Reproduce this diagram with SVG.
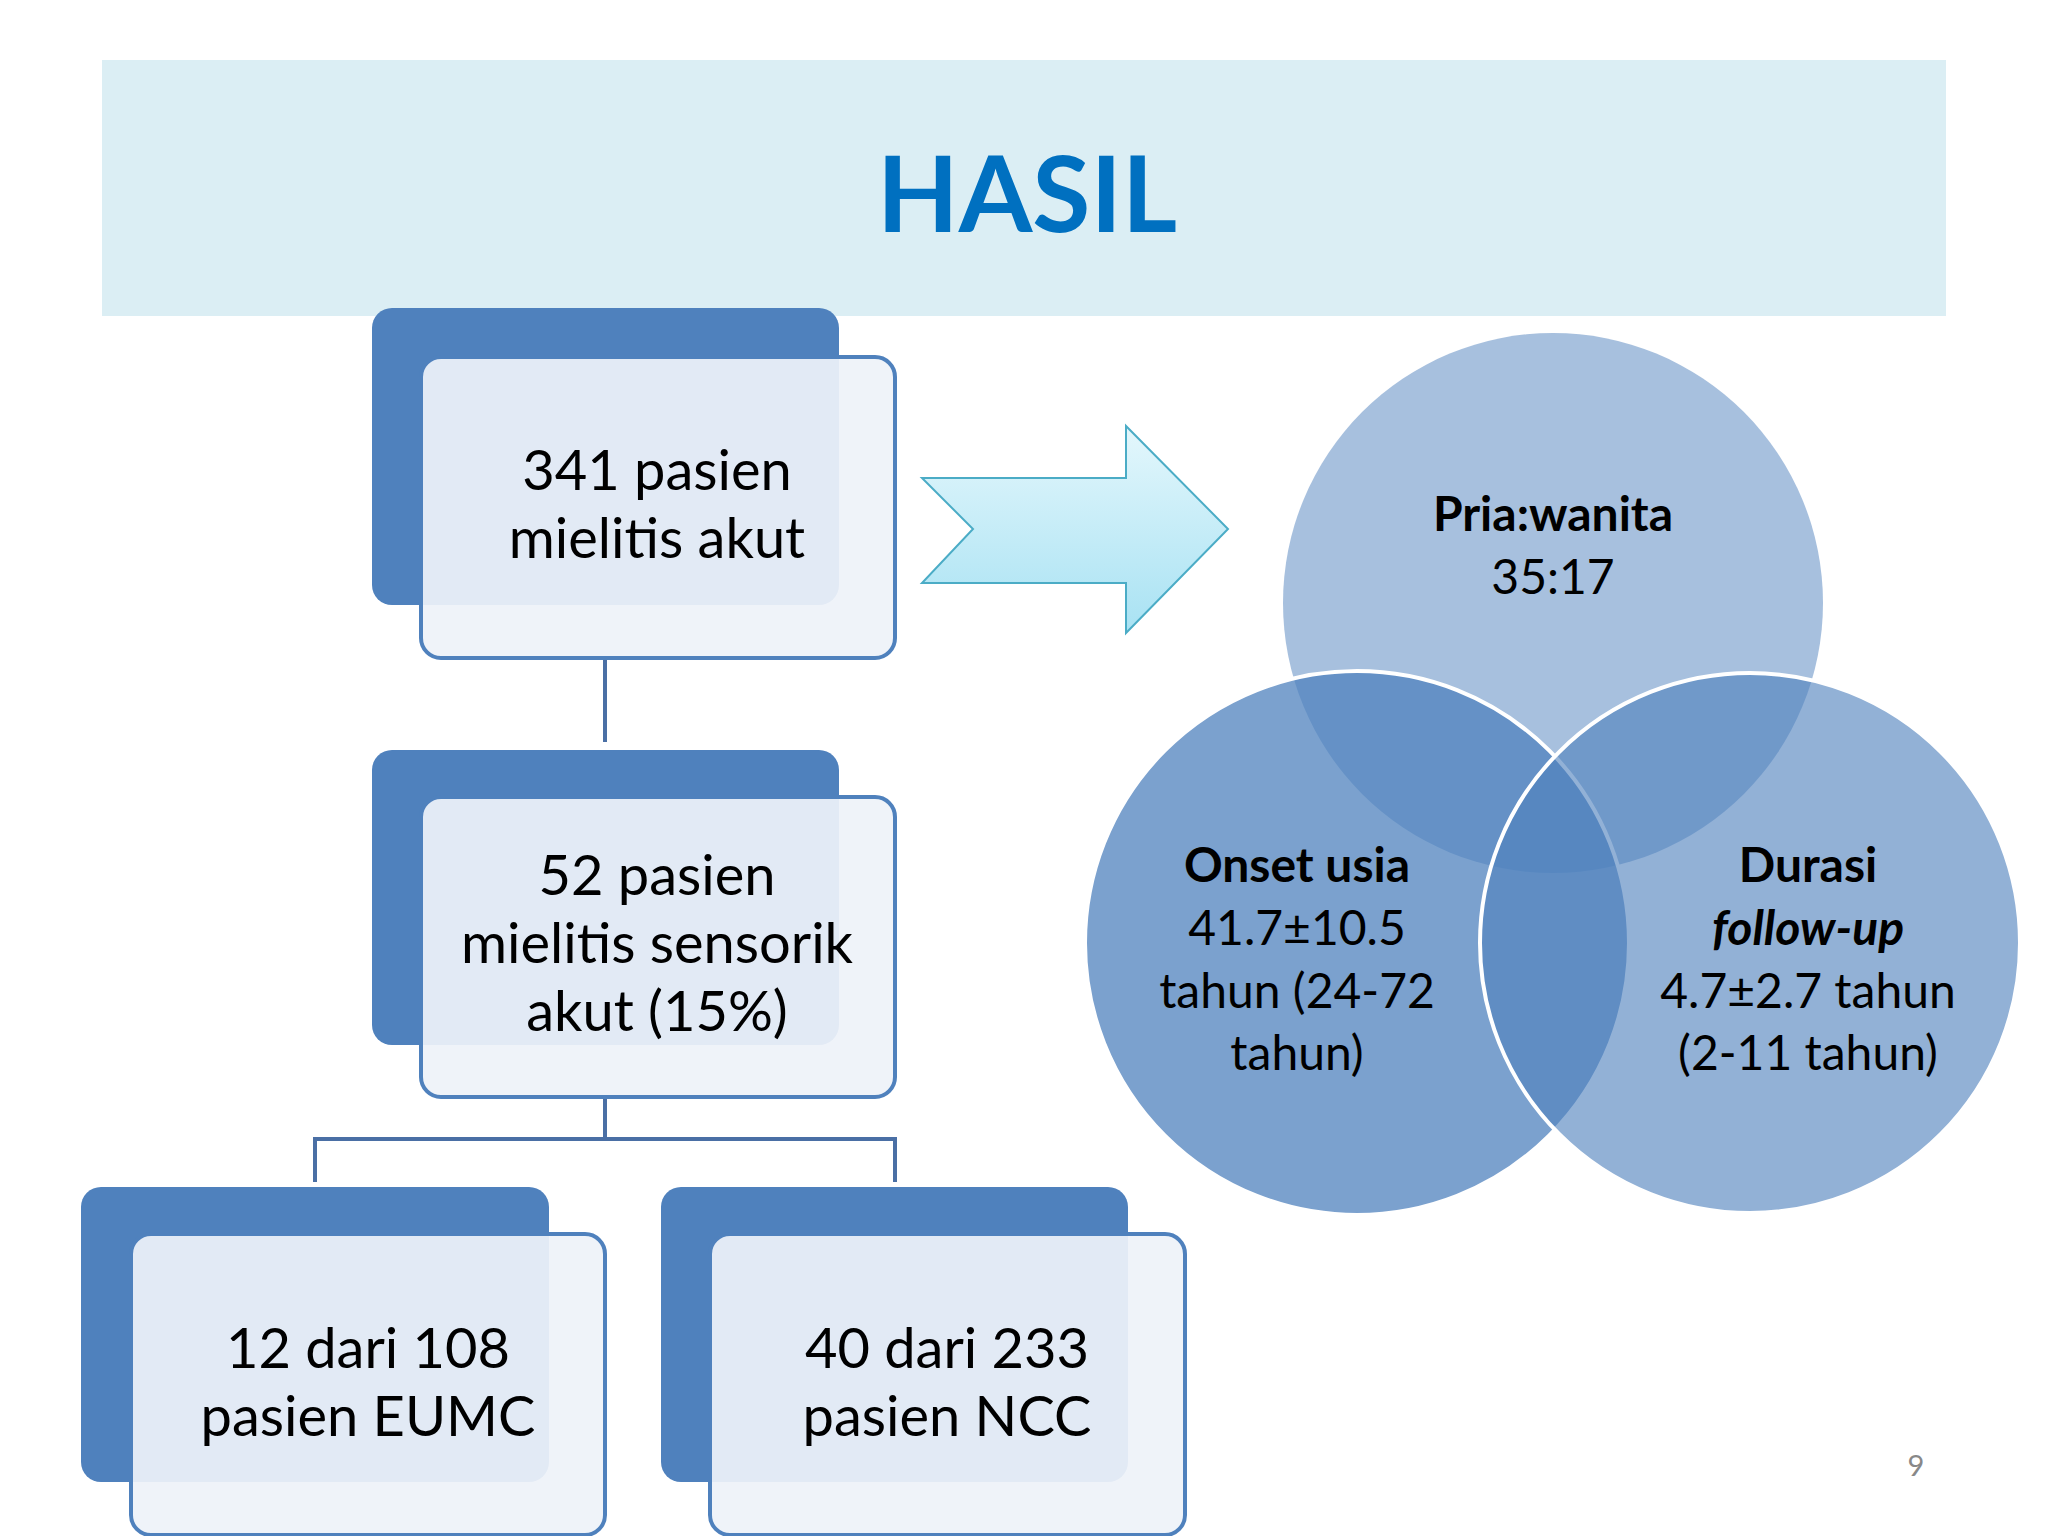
<svg xmlns="http://www.w3.org/2000/svg" width="2048" height="1536" viewBox="0 0 2048 1536">
<defs>
<style>
.t{font-family:Lato,"Open Sans","Liberation Sans",sans-serif;fill:#000;text-anchor:middle}
.bt{font-size:56px}
.ct{font-size:48px}
.back{fill:#4f81bd}
.front{fill:#eef2f9;fill-opacity:0.93;stroke:#4f81bd;stroke-width:4}
.ln{stroke:#4a6fa5;stroke-width:4;fill:none}
</style>
<linearGradient id="ag" x1="0" y1="0" x2="0" y2="1">
<stop offset="0" stop-color="#e4f7fc"/><stop offset="1" stop-color="#a8e2f3"/>
</linearGradient>
</defs>
<rect width="2048" height="1536" fill="#fff"/>
<rect x="102" y="60" width="1844" height="256" fill="#dbeef4"/>
<text x="1027" y="232" font-family="Lato,'Open Sans','Liberation Sans',sans-serif" font-size="106" font-weight="bold" fill="#0070c0" text-anchor="middle">HASIL</text>
<g id="connectors">
<line class="ln" x1="605" y1="658" x2="605" y2="742"/>
<polyline class="ln" points="315,1182 315,1139 895,1139 895,1182"/>
<line class="ln" x1="605" y1="1097" x2="605" y2="1139"/>
</g>
<g id="box1">
<rect class="back" x="372" y="308" width="467" height="297" rx="20"/>
<rect class="front" x="421" y="357" width="474" height="301" rx="20"/>
<text class="t bt" x="657" y="490">341 pasien</text>
<text class="t bt" x="657" y="558">mielitis akut</text>
</g>
<g id="box2">
<rect class="back" x="372" y="750" width="467" height="295" rx="20"/>
<rect class="front" x="421" y="797" width="474" height="300" rx="20"/>
<text class="t bt" x="657" y="895">52 pasien</text>
<text class="t bt" x="657" y="963">mielitis sensorik</text>
<text class="t bt" x="657" y="1031">akut (15%)</text>
</g>
<g id="box3">
<rect class="back" x="81" y="1187" width="468" height="295" rx="20"/>
<rect class="front" x="131" y="1234" width="474" height="301" rx="20"/>
<text class="t bt" x="368" y="1368">12 dari 108</text>
<text class="t bt" x="368" y="1436">pasien EUMC</text>
</g>
<g id="box4">
<rect class="back" x="661" y="1187" width="467" height="295" rx="20"/>
<rect class="front" x="710" y="1234" width="475" height="301" rx="20"/>
<text class="t bt" x="947" y="1368">40 dari 233</text>
<text class="t bt" x="947" y="1436">pasien NCC</text>
</g>
<g id="arrow">
<polygon points="922,478 1126,478 1126,426 1228,529 1126,633 1126,583 922,583 973,529" fill="url(#ag)" stroke="#4bacc6" stroke-width="2"/>
</g>
<g id="venn">
<circle cx="1553" cy="603" r="270" fill="#4f81bd" fill-opacity="0.5"/>
<circle cx="1357" cy="943" r="272" fill="#4f81bd" fill-opacity="0.75" stroke="#fff" stroke-width="4"/>
<circle cx="1750" cy="943" r="270" fill="#4f81bd" fill-opacity="0.62" stroke="#fff" stroke-width="4"/>
<text class="t ct" x="1553" y="531" font-weight="bold">Pria:wanita</text>
<text class="t ct" x="1553" y="594">35:17</text>
<text class="t ct" x="1297" y="882" font-weight="bold">Onset usia</text>
<text class="t ct" x="1297" y="945">41.7±10.5</text>
<text class="t ct" x="1297" y="1008">tahun (24-72</text>
<text class="t ct" x="1297" y="1070">tahun)</text>
<text class="t ct" x="1808" y="882" font-weight="bold">Durasi</text>
<text class="t ct" x="1808" y="945" font-weight="bold" font-style="italic">follow-up</text>
<text class="t ct" x="1808" y="1008">4.7±2.7 tahun</text>
<text class="t ct" x="1808" y="1070">(2-11 tahun)</text>
</g>
<text x="1916" y="1476" font-family="Lato,'Liberation Sans',sans-serif" font-size="29" fill="#888" text-anchor="middle">9</text>
</svg>
